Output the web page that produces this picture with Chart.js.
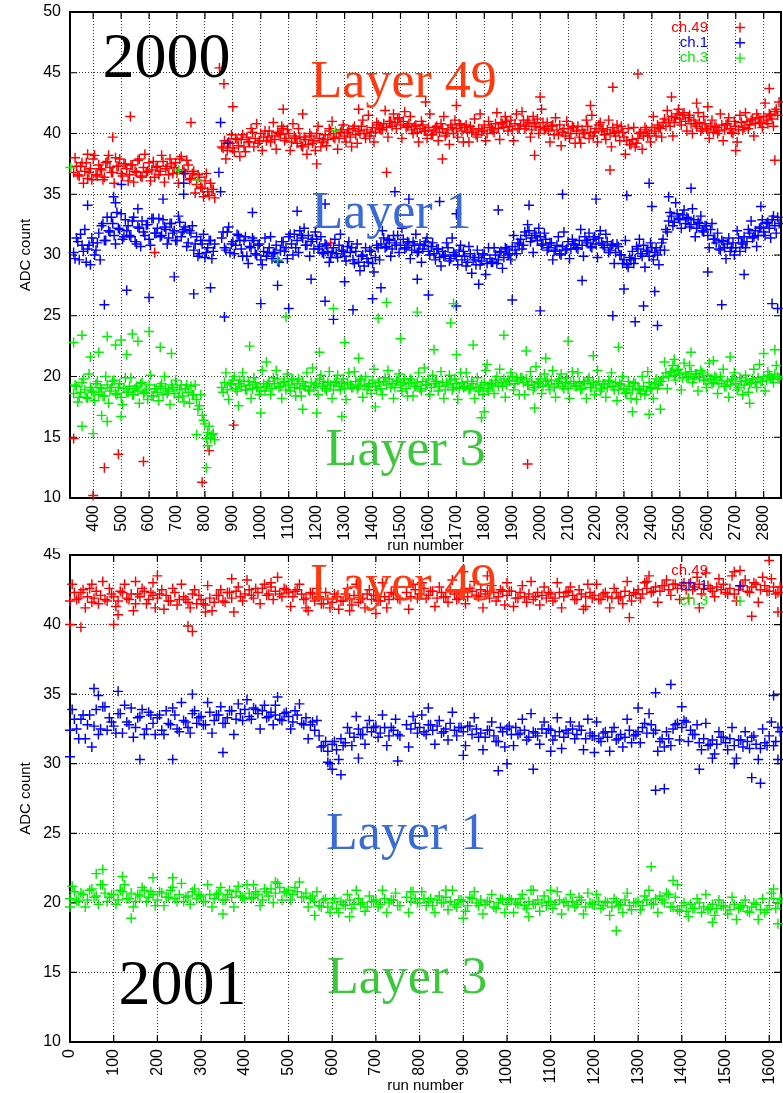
<!DOCTYPE html>
<html>
<head>
<meta charset="utf-8">
<title>ADC count vs run number, 2000 and 2001</title>
<script src="https://cdn.jsdelivr.net/npm/chart.js@4.4.1/dist/chart.umd.min.js"></script>
<style>
  body { margin: 0; background: #fff; }
  .panel { position: absolute; left: 0; }
</style>
</head>
<body>
<canvas id="adc2000" class="panel" width="783" height="553" style="top:0"></canvas>
<canvas id="adc2001" class="panel" width="783" height="545" style="top:548px"></canvas>
<script>
// each channel has two reading rows: one on the RUN_STEP grid, one shifted by half a step;
// null where no run was taken
const RUN_STEP = 10;

// ---- 2000 run period (runs 330 .. 2855) ----
const firstRun2000 = 330;
const runTicks2000 = [400, 500, 600, 700, 800, 900, 1000, 1100, 1200, 1300, 1400, 1500, 1600,
  1700, 1800, 1900, 2000, 2100, 2200, 2300, 2400, 2500, 2600, 2700, 2800];
const adcTicks2000 = [10, 15, 20, 25, 30, 35, 40, 45, 50];

const ch49_2000 = [
  36.8, 37.3, 36.5, 37.6, 36.9, 36.3, 37.1, 37.9, 36.6, 37.4,
  37.0, 36.4, 37.7, 37.2, 36.8, 38.0, 37.3, 36.7, 37.5, 37.1,
  36.6, 37.4, 36.9, 37.8, 36.5, 37.2, 36.8, 37.6, 37.0, 36.4,
  37.3, 36.9, 37.7, 37.1, 36.6, 37.5, 37.2, 36.8, 37.9, 37.0,
  36.7, 37.4, 36.3, 36.9, 35.8, 36.4, 35.5, 36.1, 35.2, 35.9,
  35.4, null, null, 38.9, 39.4, 38.6, 39.2, 38.8, 39.6, 39.0,
  39.5, 38.9, 39.7, 39.3, 40.1, 39.6, 39.2, 40.0, 39.7, 39.4,
  40.2, 39.8, 39.5, 40.1, 39.9, 40.4, 39.6, 40.0, 39.3, 39.8,
  39.2, 39.7, 38.9, 39.5, 39.1, 39.8, 39.4, 40.0, 39.6, 39.3,
  39.9, 39.5, 40.2, 39.7, 40.0, 39.6, 40.3, 39.8, 40.1, 39.7,
  40.4, 39.9, 40.2, 40.6, 40.0, 40.3, 39.8, 40.5, 40.1, 40.7,
  40.3, 40.8, 40.5, 41.0, 40.6, 40.9, 41.2, 40.7, 41.0, 40.5,
  40.8, 40.3, 40.6, 40.1, 40.4, 40.7, 40.2, 40.5, 39.9, 40.3,
  40.6, 40.1, 40.4, 39.8, 40.3, 40.7, 40.0, 40.4, 40.8, 40.2,
  40.5, 40.1, 40.6, 40.3, 39.9, 40.4, 40.2, 40.7, 40.0, 40.5,
  40.3, 40.8, 40.4, 40.9, 40.5, 41.0, 40.6, 40.3, 40.8, 40.4,
  40.7, 41.1, 40.6, 40.9, 40.3, 40.8, 41.2, 40.5, 40.9, 40.4,
  40.2, 40.6, 39.9, 40.3, 40.7, 40.1, 39.8, 40.4, 40.0, 40.5,
  40.2, 39.7, 40.3, 40.0, 40.6, 40.1, 39.8, 40.4, 40.7, 40.2,
  39.9, 40.3, 40.0, 40.5, 39.8, 40.2, 40.6, 39.7, 39.4, 39.1,
  39.5, 38.9, 39.6, 40.1, 39.8, 40.3, 40.0, 40.5, 40.2, 40.7,
  40.4, 40.9, 40.6, 41.1, 41.4, 40.9, 41.6, 41.2, 41.5, 41.0,
  41.3, 40.8, 41.1, 40.6, 40.9, 40.4, 40.8, 40.3, 40.6, 40.1,
  40.5, 40.2, 40.7, 40.3, 40.8, 40.4, 40.0, 40.6, 40.3, 40.9,
  40.5, 41.0, 40.7, 41.2, 40.8, 41.3, 40.9, 41.4, 41.1, 41.6,
  41.2, 41.8, 41.5
];
const ch49_2000_half = [
  38.0, 36.6, 37.3, 35.9, 37.6, 36.8, 36.2, 38.2, 36.5, 37.1,
  36.2, 37.6, 38.2, 36.8, 35.9, 37.3, 37.9, 36.5, 37.5, 36.1,
  37.4, 36.0, 36.8, 37.9, 36.4, 38.3, 36.9, 36.1, 37.7, 37.2,
  36.6, 38.2, 36.0, 37.3, 37.9, 36.7, 37.6, 35.9, 38.1, 36.9,
  37.8, 36.2, 36.7, 35.1, 36.6, 35.6, 34.8, 36.7, 34.9, 35.4,
  34.7, null, null, 38.8, 37.9, 39.3, 39.9, 38.5, 39.5, 38.1,
  39.9, 38.5, 39.3, 40.4, 38.9, 40.8, 39.4, 38.6, 40.2, 39.7,
  39.3, 40.9, 38.7, 40.0, 40.6, 39.4, 40.3, 38.6, 40.8, 39.6,
  40.4, 39.0, 39.7, 38.3, 40.0, 39.2, 38.6, 40.6, 38.9, 39.5,
  39.0, 40.4, 41.0, 39.6, 38.7, 40.1, 40.7, 39.3, 40.3, 38.9,
  40.6, 39.2, 40.0, 41.1, 39.6, 41.5, 40.1, 39.3, 40.9, 40.4,
  40.3, 41.9, 39.7, 41.0, 41.6, 40.4, 41.3, 39.6, 41.8, 40.6,
  41.4, 40.0, 40.7, 39.3, 41.0, 40.2, 39.6, 41.6, 39.9, 40.5,
  39.4, 40.8, 41.4, 40.0, 39.1, 40.5, 41.1, 39.7, 40.7, 39.3,
  40.7, 39.3, 40.1, 41.2, 39.7, 41.6, 40.2, 39.4, 41.0, 40.5,
  40.1, 41.7, 39.5, 40.8, 41.4, 40.2, 41.1, 39.4, 41.6, 40.4,
  41.8, 40.4, 41.1, 39.7, 41.4, 40.6, 40.0, 42.0, 40.3, 40.9,
  39.3, 40.7, 41.3, 39.9, 39.0, 40.4, 41.0, 39.6, 40.6, 39.2,
  40.6, 39.2, 40.0, 41.1, 39.6, 41.5, 40.1, 39.3, 40.9, 40.4,
  39.5, 41.1, 38.9, 40.1, 40.7, 39.4, 40.1, 38.3, 40.4, 39.1,
  40.5, 39.2, 40.0, 38.7, 40.5, 39.8, 39.3, 41.4, 39.8, 40.5,
  39.7, 41.2, 41.9, 40.6, 39.8, 41.3, 42.0, 40.7, 41.7, 40.2,
  41.5, 40.0, 40.8, 41.7, 40.2, 41.4, 40.4, 39.6, 41.1, 40.6,
  40.0, 41.6, 39.4, 40.7, 41.3, 40.1, 41.0, 39.3, 41.5, 40.3,
  41.7, 40.4, 41.1, 39.8, 41.6, 40.9, 40.5, 42.5, 40.8, 41.5,
  40.6, 42.0, 42.6
];
const ch1_2000 = [
  30.2, 31.4, 29.6, 30.8, 32.1, 30.5, 29.2, 31.0, 30.4, 31.8,
  32.4, 31.2, 33.1, 31.9, 32.6, 30.9, 32.2, 33.4, 31.5, 32.0,
  31.6, 32.8, 31.1, 32.3, 30.7, 31.9, 32.5, 31.3, 33.0, 31.8,
  32.2, 31.5, 32.9, 32.1, 31.4, 32.6, 32.0, 31.2, 32.7, 31.9,
  32.3, 31.0, 31.8, 30.4, 31.5, 30.1, 30.9, 29.8, 30.6, 31.2,
  30.3, null, null, 31.4, 30.6, 31.9, 30.2, 31.1, 30.8, 31.6,
  30.5, 31.2, 29.9, 30.7, 31.4, 30.1, 30.8, 29.6, 30.3, 29.9,
  30.6, 29.7, 30.2, 29.5, 30.4, 31.1, 30.6, 31.5, 30.9, 31.7,
  31.2, 32.0, 31.4, 30.8, 31.6, 31.1, 30.5, 31.3, 30.7, 30.2,
  30.9, 30.3, 29.8, 30.6, 30.1, 30.8, 30.4, 29.9, 30.7, 30.2,
  29.6, 30.3, 29.4, 29.9, 29.1, 29.7, 30.4, 29.3, 29.8, 30.6,
  30.9, 31.4, 30.7, 31.2, 30.5, 31.0, 31.6, 30.8, 31.3, 30.6,
  31.0, 30.4, 30.8, 30.2, 30.9, 30.5, 31.1, 30.3, 30.7, 30.1,
  30.5, 29.8, 30.3, 30.0, 30.6, 29.7, 30.2, 29.9, 30.4, 29.6,
  29.9, 29.4, 30.1, 29.6, 29.2, 29.8, 29.5, 30.0, 29.3, 29.7,
  29.4, 30.0, 29.6, 30.3, 29.8, 30.5, 30.1, 30.7, 30.4, 31.0,
  31.3, 30.8, 31.6, 32.0, 31.4, 31.8, 31.2, 31.5, 30.9, 31.3,
  30.6, 31.0, 30.3, 30.8, 30.1, 30.7, 30.4, 31.1, 30.5, 30.9,
  30.6, 31.2, 30.8, 31.5, 31.0, 30.7, 31.3, 30.9, 31.4, 31.0,
  30.6, 31.1, 30.4, 30.9, 30.2, 30.7, 30.0, 29.6, 29.2, 29.8,
  30.3, 29.7, 30.5, 30.1, 30.8, 30.3, 29.9, 30.6, 30.2, 30.0,
  30.4, 31.3, 32.1, 32.8, 33.2, 32.7, 33.4, 32.9, 33.3, 32.6,
  33.0, 32.5, 32.9, 32.2, 32.6, 32.0, 32.4, 31.6, 32.1, 31.3,
  31.0, 30.5, 31.2, 30.6, 30.9, 30.3, 31.0, 30.6, 31.4, 31.0,
  31.5, 31.1, 31.8, 31.4, 32.0, 31.6, 32.3, 31.9, 32.6, 32.2,
  32.9, 32.4, 33.1
];
const ch1_2000_half = [
  29.7, 31.1, 31.7, 30.3, 29.4, 30.8, 31.4, 30.0, 31.0, 29.6,
  32.6, 31.2, 32.0, 33.1, 31.6, 33.5, 32.1, 31.3, 32.9, 32.4,
  31.5, 33.1, 30.9, 32.2, 32.8, 31.6, 32.5, 30.8, 33.0, 31.8,
  33.0, 31.6, 32.3, 30.9, 32.6, 31.8, 31.2, 33.2, 31.5, 32.1,
  30.7, 32.0, 32.4, 30.9, 29.9, 31.2, 31.7, 30.2, 31.2, 29.7,
  30.9, null, null, 31.9, 30.4, 32.3, 30.9, 30.1, 31.7, 31.2,
  29.9, 31.5, 29.3, 30.6, 31.2, 30.0, 30.9, 29.2, 31.4, 30.2,
  31.5, 30.1, 30.8, 29.4, 31.1, 30.3, 29.7, 31.7, 30.0, 30.6,
  30.2, 31.6, 32.2, 30.8, 29.9, 31.3, 31.9, 30.5, 31.5, 30.1,
  30.8, 29.4, 30.2, 31.3, 29.8, 31.7, 30.3, 29.5, 31.1, 30.6,
  29.3, 30.9, 28.7, 30.0, 30.6, 29.4, 30.3, 28.6, 30.8, 29.6,
  32.0, 30.6, 31.3, 29.9, 31.6, 30.8, 30.2, 32.2, 30.5, 31.1,
  29.7, 31.1, 31.7, 30.3, 29.4, 30.8, 31.4, 30.0, 31.0, 29.6,
  30.5, 29.1, 29.9, 31.0, 29.5, 31.4, 30.0, 29.2, 30.8, 30.3,
  29.1, 30.7, 28.5, 29.8, 30.4, 29.2, 30.1, 28.4, 30.6, 29.4,
  30.6, 29.3, 30.2, 28.9, 30.6, 30.0, 29.6, 31.6, 30.1, 30.9,
  30.5, 31.9, 32.5, 31.1, 30.2, 31.6, 32.2, 30.8, 31.8, 30.4,
  31.0, 29.6, 30.4, 31.5, 30.0, 31.9, 30.5, 29.7, 31.3, 30.8,
  30.5, 32.1, 29.9, 31.2, 31.8, 30.6, 31.5, 29.8, 32.0, 30.8,
  31.7, 30.2, 30.8, 29.3, 30.9, 30.0, 29.3, 31.2, 29.0, 29.6,
  29.3, 30.7, 31.3, 29.9, 29.0, 30.4, 31.0, 29.6, 30.6, 29.2,
  31.0, 30.4, 31.9, 33.5, 32.4, 34.3, 33.0, 32.2, 33.7, 33.1,
  32.3, 33.8, 31.5, 32.7, 33.2, 31.9, 32.4, 30.6, 32.6, 31.3,
  31.8, 30.4, 31.1, 29.7, 31.4, 30.6, 30.0, 32.0, 30.3, 30.9,
  30.6, 32.1, 32.8, 31.5, 30.7, 32.2, 32.9, 31.6, 32.7, 31.4,
  33.2, 31.8, 32.6
];
const ch3_2000 = [
  18.6, 19.2, 18.3, 19.5, 18.9, 18.2, 19.1, 18.7, 19.4, 18.5,
  19.0, 18.4, 19.3, 18.8, 19.6, 18.6, 19.1, 18.3, 19.0, 18.7,
  19.2, 18.5, 19.0, 18.8, 19.4, 18.6, 18.9, 19.3, 18.4, 19.0,
  18.7, 19.2, 18.5, 19.0, 18.8, 19.3, 18.6, 19.1, 18.9, 18.4,
  19.0, 18.7, 19.2, 18.5, 18.1, 17.6, 16.8, 16.1, 15.4, 14.9,
  15.3, null, null, 19.1, 19.5, 18.9, 19.3, 19.7, 19.0, 19.4,
  19.2, 19.6, 18.9, 19.3, 19.0, 19.5, 19.1, 18.8, 19.4, 19.2,
  19.6, 19.0, 19.4, 19.8, 19.2, 19.5, 18.9, 19.3, 19.7, 19.1,
  19.4, 19.0, 19.6, 19.2, 18.9, 19.5, 19.1, 19.4, 19.8, 19.2,
  19.0, 19.5, 19.3, 18.9, 19.6, 19.2, 19.4, 19.0, 19.5, 19.3,
  19.1, 19.6, 19.2, 19.8, 19.3, 18.9, 19.4, 19.7, 19.2, 19.5,
  19.0, 19.6, 19.3, 19.8, 19.4, 19.1, 19.7, 19.3, 19.5, 19.0,
  19.4, 19.7, 19.2, 19.5, 19.0, 19.6, 19.3, 19.8, 19.1, 19.4,
  19.6, 19.2, 19.5, 18.9, 19.3, 19.7, 19.1, 19.4, 19.0, 19.5,
  19.2, 19.6, 19.0, 19.4, 19.1, 18.8, 19.3, 19.5, 19.0, 19.4,
  19.3, 19.7, 19.2, 19.5, 19.8, 19.3, 19.6, 20.0, 19.4, 19.7,
  19.9, 19.5, 19.8, 19.3, 19.6, 19.1, 19.5, 19.8, 19.2, 19.6,
  19.3, 19.7, 19.1, 19.4, 19.8, 19.2, 19.5, 19.0, 19.4, 19.6,
  19.2, 19.5, 19.0, 19.4, 19.7, 19.1, 19.5, 19.3, 19.6, 19.0,
  19.4, 19.1, 19.6, 19.2, 19.5, 18.9, 19.3, 19.0, 18.7, 19.2,
  18.9, 19.4, 19.0, 18.6, 19.2, 18.8, 19.5, 19.1, 19.4, 19.0,
  19.6, 19.9, 20.3, 20.0, 20.4, 20.1, 20.5, 20.2, 19.9, 20.3,
  20.0, 20.4, 19.8, 20.2, 19.9, 20.3, 19.7, 20.1, 19.8, 19.5,
  19.9, 19.4, 19.7, 19.2, 19.6, 19.3, 19.8, 19.4, 19.1, 19.6,
  19.3, 19.7, 19.4, 19.8, 19.5, 19.9, 19.6, 20.0, 19.7, 20.1,
  19.8, 20.2, 20.0
];
const ch3_2000_half = [
  19.3, 17.9, 18.7, 19.8, 18.3, 20.2, 18.8, 18.0, 19.6, 19.1,
  18.4, 20.0, 17.8, 19.1, 19.7, 18.5, 19.4, 17.7, 19.9, 18.7,
  19.9, 18.5, 19.2, 17.8, 19.5, 18.7, 18.1, 20.1, 18.4, 19.0,
  18.0, 19.4, 20.0, 18.6, 17.7, 19.1, 19.7, 18.3, 19.3, 17.9,
  19.3, 17.8, 18.5, 19.3, 17.3, 18.5, 16.4, 14.9, 15.9, 15.2,
  14.8, null, null, 18.7, 20.3, 18.1, 19.4, 20.0, 18.8, 19.7,
  20.3, 18.9, 19.6, 18.2, 19.9, 19.1, 18.5, 20.5, 18.8, 19.4,
  18.5, 19.9, 20.5, 19.1, 18.2, 19.6, 20.2, 18.8, 19.8, 18.4,
  19.8, 18.4, 19.2, 20.3, 18.8, 20.7, 19.3, 18.5, 20.1, 19.6,
  18.8, 20.4, 18.2, 19.5, 20.1, 18.9, 19.8, 18.1, 20.3, 19.1,
  20.4, 19.0, 19.7, 18.3, 20.0, 19.2, 18.6, 20.6, 18.9, 19.5,
  18.5, 19.9, 20.5, 19.1, 18.2, 19.6, 20.2, 18.8, 19.8, 18.4,
  19.8, 18.4, 19.2, 20.3, 18.8, 20.7, 19.3, 18.5, 20.1, 19.6,
  18.8, 20.4, 18.2, 19.5, 20.1, 18.9, 19.8, 18.1, 20.3, 19.1,
  20.3, 18.9, 19.6, 18.2, 19.9, 19.1, 18.5, 20.5, 18.8, 19.4,
  18.6, 20.0, 20.6, 19.2, 18.3, 19.7, 20.3, 18.9, 19.9, 18.5,
  19.9, 18.5, 19.3, 20.4, 18.9, 20.8, 19.4, 18.6, 20.2, 19.7,
  18.9, 20.5, 18.3, 19.6, 20.2, 19.0, 19.9, 18.2, 20.4, 19.2,
  20.3, 18.9, 19.6, 18.2, 19.9, 19.1, 18.5, 20.5, 18.8, 19.4,
  18.3, 19.7, 20.3, 18.9, 18.0, 19.4, 20.0, 18.6, 19.6, 18.2,
  19.5, 18.1, 18.9, 20.0, 18.5, 20.4, 19.0, 18.2, 19.8, 19.3,
  19.6, 21.2, 19.0, 20.3, 20.9, 19.7, 20.6, 18.9, 21.1, 19.9,
  20.9, 19.5, 20.2, 18.8, 20.5, 19.7, 19.1, 21.1, 19.4, 20.0,
  18.6, 20.0, 20.6, 19.2, 18.3, 19.7, 20.3, 18.9, 19.9, 18.5,
  20.1, 18.7, 19.5, 20.6, 19.1, 21.0, 19.6, 18.8, 20.4, 19.9,
  19.5, 20.9, 19.8
];

// single readings off the main bands: [run, ADC]
const ch49_2000_odd = [
  [330, 14.9], [400, 10.2], [440, 12.5], [490, 13.6], [580, 13.0], [790, 11.3], [815, 13.9],
  [903, 16.0], [1955, 12.8], [852, 45.4], [868, 44.1], [533, 41.4], [750, 40.9], [380, 38.3],
  [470, 39.7], [1080, 42.0], [2350, 44.9], [2260, 43.8], [2000, 43.0], [1590, 42.6],
  [2180, 42.3], [2600, 42.2], [2820, 43.7], [1350, 42.0], [1150, 41.6], [1700, 42.3],
  [2470, 43.0], [900, 42.2], [2560, 42.5], [1200, 37.5], [1650, 37.9], [2250, 37.0],
  [2840, 37.8], [2700, 38.6], [1450, 36.8], [1980, 38.2], [620, 30.2], [1250, 31.0]
];
const ch1_2000_odd = [
  [440, 25.9], [520, 27.1], [600, 26.5], [690, 28.2], [760, 26.8], [820, 27.3], [870, 24.9],
  [856, 40.9], [881, 39.2], [850, 36.8], [856, 35.2], [501, 35.8], [724, 36.7], [724, 35.9],
  [724, 35.0], [473, 34.8], [1000, 26.0], [1060, 27.5], [1100, 25.6], [1180, 28.0],
  [1230, 26.2], [1260, 24.7], [1300, 27.8], [1330, 25.5], [1400, 26.4], [1430, 27.3],
  [1480, 35.2], [1530, 34.6], [1560, 28.0], [1600, 26.7], [1640, 34.4], [1700, 25.8],
  [1780, 27.6], [1850, 33.7], [1900, 26.3], [1960, 34.1], [2000, 25.4], [2080, 35.0],
  [2150, 27.9], [2200, 34.6], [2260, 25.0], [2300, 27.2], [2340, 24.5], [2370, 25.8],
  [2390, 35.9], [2410, 27.0], [2420, 24.2], [2460, 34.8], [2540, 35.5], [2600, 28.6],
  [2650, 25.9], [2730, 28.4], [2790, 34.0], [2830, 26.0], [2850, 25.6], [380, 34.1],
  [480, 34.3], [560, 33.8], [650, 34.6], [970, 33.5], [1130, 33.6], [1230, 34.2],
  [1700, 33.4], [2310, 34.9], [2400, 34.0]
];
const ch3_2000_odd = [
  [330, 22.8], [360, 23.4], [390, 21.6], [420, 22.0], [450, 23.3], [480, 22.6], [500, 23.0],
  [520, 21.8], [540, 23.5], [560, 22.9], [600, 23.7], [640, 22.4], [680, 21.9], [360, 15.9],
  [400, 15.3], [450, 16.3], [430, 16.8], [500, 16.7], [770, 15.2], [805, 12.5], [810, 14.3],
  [960, 22.5], [1020, 21.2], [1090, 24.9], [1210, 22.0], [1260, 25.6], [1300, 22.8],
  [1350, 21.5], [1420, 24.8], [1450, 26.1], [1500, 23.1], [1560, 25.3], [1620, 22.2],
  [1680, 24.4], [1700, 21.8], [1760, 22.6], [1810, 21.0], [1870, 23.4], [1950, 22.1],
  [2020, 21.5], [2100, 22.9], [2190, 21.7], [2280, 22.4], [2330, 17.1], [2390, 16.9],
  [2430, 17.3], [2480, 21.4], [2540, 22.0], [2620, 21.3], [2680, 21.6], [2750, 17.8],
  [2800, 21.9], [2840, 22.2], [1150, 17.3], [1200, 17.0], [1290, 16.7], [1410, 17.5],
  [1790, 16.6], [1800, 17.1], [1980, 17.4], [1000, 17.0], [920, 17.6], [319, 37.2],
  [707, 37.0], [773, 36.2], [1267, 40.2], [1060, 29.6], [1690, 26.0]
];

// ---- 2001 run period (runs 0 .. 1625) ----
const firstRun2001 = 0;
const runTicks2001 = [0, 100, 200, 300, 400, 500, 600, 700, 800, 900, 1000, 1100, 1200,
  1300, 1400, 1500, 1600];
const adcTicks2001 = [10, 15, 20, 25, 30, 35, 40, 45];

const ch49_2001 = [
  41.7, 42.3, 41.9, 42.5, 42.0, 41.6, 42.4, 42.1, 41.8, 42.6,
  42.0, 41.7, 42.3, 41.9, 42.2, 41.5, 42.0, 42.4, 41.8, 42.1,
  41.9, 42.5, 42.1, 41.7, 42.3, 41.8, 42.0, 41.6, 42.2, 41.5,
  41.8, 41.4, 41.9, 41.6, 42.1, 41.7, 42.3, 41.9, 42.4, 42.0,
  42.2, 42.5, 41.9, 42.3, 42.6, 42.1, 42.7, 42.4, 42.2, 42.6,
  42.3, 42.0, 42.5, 42.2, 41.9, 42.3, 41.7, 42.0, 41.5, 41.8,
  41.6, 42.0, 41.7, 42.2, 41.8, 42.1, 41.6, 41.9, 42.2, 41.8,
  42.1, 41.7, 42.0, 41.8, 42.2, 41.9, null, 42.3, 42.0, 42.5,
  42.2, 42.6, 42.1, 42.4, 41.9, 42.3, 42.0, 42.5, 42.2, 41.9,
  42.3, 42.0, 42.4, 42.1, 42.5, 42.2, 41.9, 42.3, 42.0, 42.4,
  42.1, 42.4, 41.9, 42.3, 42.0, 42.2, 41.8, 42.3, 42.1, 41.9,
  42.2, 41.9, 42.3, 42.0, 42.4, 42.1, 41.8, 42.2, 42.0, 42.3,
  42.1, 41.8, 42.2, 42.0, 41.9, 42.3, 42.0, 42.4, 42.1, 42.3,
  42.5, 42.2, 42.6, 42.3, 42.7, 42.4, 42.8, 42.5, 42.9, 42.6,
  42.8, 42.5, 43.0, 42.7, 42.9, 42.6, 42.8, 42.4, 42.7, 42.5,
  42.3, 42.6, 42.2, 42.5, 42.8, 42.4, 42.7, 42.9, 42.5, 42.8,
  42.4, 42.7, 42.3
];
const ch49_2001_half = [
  42.9, 41.8, 42.3, 41.2, 42.6, 41.9, 41.5, 43.1, 41.7, 42.2,
  41.3, 42.4, 42.9, 41.8, 41.0, 42.2, 42.6, 41.5, 42.3, 41.2,
  42.2, 41.1, 41.7, 42.6, 41.4, 42.9, 41.8, 41.2, 42.5, 42.1,
  41.5, 42.8, 41.0, 42.1, 42.5, 41.6, 42.3, 40.9, 42.7, 41.7,
  43.2, 42.1, 42.6, 41.5, 42.9, 42.2, 41.8, 43.4, 42.0, 42.5,
  41.3, 42.4, 42.9, 41.8, 41.0, 42.2, 42.6, 41.5, 42.3, 41.2,
  42.2, 41.1, 41.7, 42.6, 41.4, 42.9, 41.8, 41.2, 42.5, 42.1,
  41.7, 43.0, 41.2, 42.3, 42.7, 41.8, null, 41.1, 42.9, 41.9,
  43.0, 41.9, 42.4, 41.3, 42.7, 42.0, 41.6, 43.2, 41.8, 42.3,
  41.5, 42.6, 43.1, 42.0, 41.2, 42.4, 42.8, 41.7, 42.5, 41.4,
  42.4, 41.3, 41.9, 42.8, 41.6, 43.1, 42.0, 41.4, 42.7, 42.3,
  41.7, 43.0, 41.2, 42.3, 42.7, 41.8, 42.5, 41.1, 42.9, 41.9,
  42.9, 41.8, 42.3, 41.2, 42.6, 41.9, 41.5, 43.1, 41.7, 42.2,
  41.9, 43.0, 43.5, 42.4, 41.6, 42.8, 43.2, 42.1, 42.9, 41.8,
  43.0, 41.9, 42.5, 43.4, 42.2, 43.7, 42.6, 42.0, 43.3, 42.9,
  42.2, 43.5, 41.7, 42.8, 43.2, 42.3, 43.0, 41.6, 43.4, 42.4,
  43.3, 42.2, 42.7
];
const ch1_2001 = [
  32.4, 33.2, 31.8, 33.5, 32.8, 31.2, 33.9, 32.5, 34.1, 33.3,
  32.7, 33.6, 32.2, 33.0, 34.0, 32.6, 33.4, 32.1, 33.7, 32.9,
  33.3, 32.4, 33.8, 32.8, 33.5, 32.3, 33.1, 32.6, 33.6, 32.9,
  33.4, 32.8, 33.7, 33.1, 33.5, 32.9, 33.3, 33.8, 33.2, 33.6,
  33.9, 33.4, 34.0, 33.6, 33.8, 33.3, 33.7, 33.5, 33.2, 33.6,
  33.4, 33.0, 33.5, 32.9, 33.3, 32.8, 32.4, 32.0, 31.3, 30.9,
  31.4, 31.0, 31.8, 31.5, 32.2, 31.9, 32.5, 32.1, 32.6, 32.3,
  32.7, 32.2, 32.6, 32.0, 32.4, 32.1, null, 32.8, 32.5, 32.9,
  32.6, 32.3, 32.8, 32.4, 32.7, 32.2, 32.5, 32.9, 32.4, 32.6,
  32.3, 32.7, 32.1, 32.5, 32.2, 31.9, 32.4, 32.0, 31.6, 32.3,
  32.5, 32.1, 32.6, 32.2, 32.4, 31.9, 32.3, 32.0, 32.5, 32.2,
  32.4, 32.0, 32.3, 31.9, 32.2, 32.5, 32.1, 32.4, 31.8, 32.2,
  32.0, 31.8, 32.2, 31.9, 32.3, 31.7, 32.1, 31.9, 32.4, 32.0,
  32.3, 32.6, 32.2, 32.8, 32.4, 31.6, 31.2, 31.8, 32.5, 32.9,
  32.6, 33.0, 32.4, 32.1, 31.5, 31.8, 31.3, 31.7, 31.4, 31.9,
  31.5, 31.8, 31.3, 31.7, 31.2, 31.6, 31.9, 31.4, 31.1, 31.5,
  32.0, 31.3, 32.6
];
const ch1_2001_half = [
  33.9, 32.5, 33.2, 31.8, 33.5, 32.7, 32.1, 34.1, 32.4, 33.0,
  32.2, 33.6, 34.2, 32.8, 31.9, 33.3, 33.9, 32.5, 33.5, 32.1,
  33.5, 32.1, 32.9, 34.0, 32.5, 34.4, 33.0, 32.2, 33.8, 33.3,
  32.8, 34.4, 32.2, 33.5, 34.1, 32.9, 33.8, 32.1, 34.3, 33.1,
  34.6, 33.2, 33.9, 32.5, 34.2, 33.4, 32.8, 34.8, 33.1, 33.7,
  32.5, 33.8, 34.3, 32.8, 31.8, 33.0, 33.1, 31.2, 31.6, 30.0,
  31.6, 30.3, 31.3, 32.6, 31.3, 33.4, 32.1, 31.4, 33.1, 32.6,
  31.9, 33.5, 31.3, 32.6, 33.2, 32.0, null, 31.2, 33.4, 32.2,
  33.5, 32.1, 32.8, 31.4, 33.1, 32.3, 31.7, 33.7, 32.0, 32.6,
  31.3, 32.7, 33.3, 31.9, 31.0, 32.4, 33.0, 31.6, 32.6, 31.2,
  32.7, 31.3, 32.1, 33.2, 31.7, 33.6, 32.2, 31.4, 33.0, 32.5,
  31.7, 33.3, 31.1, 32.4, 33.0, 31.8, 32.7, 31.0, 33.2, 32.0,
  33.0, 31.6, 32.3, 30.9, 32.6, 31.8, 31.2, 33.2, 31.5, 32.1,
  31.5, 32.9, 33.6, 32.2, 30.9, 31.8, 32.3, 31.3, 32.8, 31.7,
  33.1, 31.6, 32.1, 32.8, 31.0, 32.9, 31.4, 30.7, 32.3, 31.9,
  31.0, 32.6, 30.4, 31.7, 32.3, 31.1, 32.0, 30.3, 32.5, 31.3,
  33.0, 31.6, 32.3
];
const ch3_2001 = [
  20.3, 20.8, 20.1, 20.6, 20.2, 21.0, 20.5, 21.3, 20.7, 20.4,
  20.6, 20.2, 20.8, 20.3, 20.7, 20.1, 20.5, 20.9, 20.4, 20.6,
  20.2, 20.7, 20.4, 20.9, 20.3, 20.6, 20.1, 20.5, 20.8, 20.3,
  20.5, 20.1, 20.6, 20.3, 20.7, 20.2, 20.6, 20.4, 20.8, 20.5,
  20.3, 20.7, 20.4, 20.6, 20.2, 20.8, 21.0, 20.7, 21.1, 20.8,
  20.9, 20.6, 20.8, 20.4, 20.7, 20.3, 20.1, 19.8, 20.2, 19.7,
  20.0, 19.6, 20.1, 19.8, 20.2, 19.9, 20.3, 20.0, 19.7, 20.1,
  20.2, 19.9, 20.3, 20.0, 20.2, 19.8, null, 20.4, 20.1, 20.3,
  20.0, 20.3, 20.1, 19.8, 20.2, 20.0, 20.4, 20.1, 19.9, 20.2,
  20.1, 19.8, 20.3, 20.0, 20.2, 19.9, 20.1, 19.7, 20.0, 20.2,
  19.9, 20.2, 20.0, 20.3, 19.8, 20.1, 19.9, 20.2, 20.0, 19.8,
  20.1, 19.9, 20.2, 20.0, 19.8, 20.1, 19.9, 20.2, 19.7, 20.0,
  19.9, 20.1, 19.8, 20.0, 19.7, 20.1, 19.9, 20.2, 19.8, 20.0,
  20.1, 19.8, 20.2, 19.9, 20.3, 20.5, 20.0, 20.6, 19.7, 19.5,
  19.8, 19.4, 19.9, 19.6, 20.0, 19.7, 19.5, 19.9, 19.6, 19.8,
  19.7, 19.5, 19.9, 19.6, 19.8, 19.4, 19.7, 19.9, 19.5, 19.3,
  19.8, 20.3, 20.0
];
const ch3_2001_half = [
  21.2, 20.2, 20.7, 19.7, 20.9, 20.4, 19.9, 21.3, 20.1, 20.6,
  19.9, 20.9, 21.3, 20.3, 19.7, 20.6, 21.1, 20.1, 20.8, 19.8,
  20.8, 19.8, 20.4, 21.1, 20.1, 21.4, 20.4, 19.9, 21.0, 20.6,
  20.1, 21.3, 19.7, 20.6, 21.1, 20.2, 20.9, 19.7, 21.2, 20.4,
  21.3, 20.3, 20.8, 19.8, 21.0, 20.5, 20.0, 21.4, 20.2, 20.7,
  20.2, 21.1, 21.5, 20.4, 19.7, 20.5, 20.8, 19.7, 20.3, 19.3,
  20.3, 19.3, 19.9, 20.6, 19.6, 20.9, 19.9, 19.4, 20.5, 20.1,
  19.7, 20.9, 19.3, 20.2, 20.7, 19.8, null, 19.3, 20.8, 20.0,
  20.8, 19.8, 20.3, 19.3, 20.5, 20.0, 19.5, 20.9, 19.7, 20.2,
  19.4, 20.4, 20.8, 19.8, 19.2, 20.1, 20.6, 19.6, 20.3, 19.3,
  20.3, 19.3, 19.9, 20.6, 19.6, 20.9, 19.9, 19.4, 20.5, 20.1,
  19.6, 20.8, 19.2, 20.1, 20.6, 19.7, 20.4, 19.2, 20.7, 19.9,
  20.6, 19.6, 20.1, 19.1, 20.3, 19.8, 19.3, 20.7, 19.5, 20.0,
  19.5, 20.5, 20.9, 19.9, 19.3, 20.2, 20.7, 19.7, 20.4, 19.4,
  20.0, 19.0, 19.6, 20.3, 19.3, 20.6, 19.6, 19.1, 20.2, 19.8,
  19.2, 20.4, 18.8, 19.7, 20.2, 19.3, 20.0, 18.8, 20.3, 19.5,
  20.7, 19.6, 20.3
];

const ch49_2001_odd = [
  [0, 40.0], [25, 39.8], [100, 40.0], [270, 39.9], [280, 39.5], [110, 40.7], [50, 42.9],
  [150, 43.1], [190, 43.0], [200, 43.5], [310, 40.9], [370, 43.3], [460, 43.0], [900, 43.8],
  [955, 43.5], [1000, 43.0], [1280, 40.5], [1320, 43.1], [1520, 43.8], [1600, 44.6],
  [1620, 40.9], [1440, 41.2], [1180, 41.3], [640, 41.0], [700, 40.8], [540, 41.2], [1560, 40.6]
];
const ch1_2001_odd = [
  [0, 30.5], [55, 35.4], [65, 34.9], [110, 35.2], [160, 30.3], [235, 30.3], [280, 35.0],
  [350, 30.8], [470, 34.2], [590, 30.1], [600, 29.6], [620, 29.2], [660, 30.4], [750, 30.2],
  [980, 29.5], [1000, 30.0], [1060, 29.6], [1200, 30.8], [1340, 28.1], [1360, 28.2],
  [1375, 35.7], [1340, 35.1], [1400, 34.1], [1440, 29.6], [1470, 30.4], [1520, 30.0],
  [1560, 29.0], [1580, 28.6], [1610, 34.9], [1620, 30.3], [1300, 34.0], [820, 34.0],
  [900, 30.6], [1100, 30.9]
];
const ch3_2001_odd = [
  [0, 19.7], [60, 22.1], [75, 22.4], [120, 21.9], [140, 18.9], [190, 21.8], [235, 21.8],
  [350, 19.2], [420, 21.3], [470, 21.5], [560, 19.1], [640, 19.0], [900, 18.9], [1050, 19.0],
  [1250, 18.0], [1330, 22.6], [1380, 21.6], [1390, 21.3], [1470, 18.6], [1610, 21.0],
  [1620, 18.5], [1100, 20.9], [860, 20.9], [780, 20.8], [1060, 20.9]
];

const SANS = '"Liberation Sans", Arial, Helvetica, sans-serif';
const SERIF = '"Liberation Serif", "Times New Roman", serif';
const CHANNELS = [
  { label: 'ch.49', color: '#ff0000' },
  { label: 'ch.1', color: '#0000ff' },
  { label: 'ch.3', color: '#00f000' }
];

function toPoints(firstRun, rows, odd) {
  const pts = [];
  rows.forEach((values, r) => {
    const start = firstRun + r * RUN_STEP / 2;
    values.forEach((v, i) => {
      if (v !== null) pts.push({ x: start + i * RUN_STEP, y: v });
    });
  });
  odd.forEach(([run, adc]) => pts.push({ x: run, y: adc }));
  return pts;
}

function plusSign(ctx, x, y, r) {
  ctx.beginPath();
  ctx.moveTo(x - r, y); ctx.lineTo(x + r, y);
  ctx.moveTo(x, y - r); ctx.lineTo(x, y + r);
  ctx.stroke();
}

// box around the plot with inward tick marks on all four sides
const frame = {
  id: 'frame',
  beforeDatasetsDraw(chart) {
    const { ctx, chartArea: a, scales: { x, y } } = chart;
    ctx.save();
    ctx.strokeStyle = '#000';
    ctx.lineWidth = 1.2;
    x.ticks.forEach(t => {
      const px = x.getPixelForValue(t.value);
      ctx.beginPath();
      ctx.moveTo(px, a.bottom); ctx.lineTo(px, a.bottom - 7);
      ctx.moveTo(px, a.top); ctx.lineTo(px, a.top + 7);
      ctx.stroke();
    });
    y.ticks.forEach(t => {
      const py = y.getPixelForValue(t.value);
      ctx.beginPath();
      ctx.moveTo(a.left, py); ctx.lineTo(a.left + 7, py);
      ctx.moveTo(a.right, py); ctx.lineTo(a.right - 7, py);
      ctx.stroke();
    });
    ctx.lineWidth = 2;
    ctx.strokeRect(a.left, a.top, a.right - a.left, a.bottom - a.top);
    ctx.restore();
  }
};

// gnuplot-style key: each entry is drawn just before its own points
const key = {
  id: 'key',
  beforeDatasetDraw(chart, args) {
    const { ctx, chartArea: a } = chart;
    const ch = CHANNELS[args.index];
    const yy = a.top + 15.5 + args.index * 15.3;
    ctx.save();
    ctx.font = '15px ' + SANS;
    ctx.fillStyle = ch.color;
    ctx.textAlign = 'right';
    ctx.textBaseline = 'middle';
    ctx.fillText(ch.label, a.right - 73, yy);
    ctx.strokeStyle = ch.color;
    ctx.lineWidth = 1.4;
    plusSign(ctx, a.right - 41, yy, 5);
    ctx.restore();
  }
};

function textLabels(items) {
  return {
    id: 'textLabels',
    afterDatasetsDraw(chart) {
      const { ctx, scales: { x, y } } = chart;
      ctx.save();
      ctx.textAlign = 'left';
      ctx.textBaseline = 'alphabetic';
      items.forEach(it => {
        ctx.font = it.size + 'px ' + SERIF;
        ctx.fillStyle = it.color;
        ctx.fillText(it.text, x.getPixelForValue(it.run), y.getPixelForValue(it.adc));
      });
      ctx.restore();
    }
  };
}

function panel(id, p) {
  const datasets = p.series.map((s, i) => ({
    label: CHANNELS[i].label,
    data: toPoints(p.firstRun, s.rows, s.odd),
    pointStyle: 'cross',
    pointRadius: 5,
    pointBorderWidth: 1.45,
    borderColor: CHANNELS[i].color,
    backgroundColor: CHANNELS[i].color,
    showLine: false,
    order: 3 - i,
    clip: 8
  }));

  const tickFont = { family: SANS, size: 16 };
  const titleFont = { family: SANS, size: 15, lineHeight: 1 };

  return new Chart(document.getElementById(id), {
    type: 'scatter',
    data: { datasets },
    options: {
      responsive: false,
      animation: false,
      devicePixelRatio: 1,
      layout: { autoPadding: false, padding: { top: p.padTop, right: 2, left: 0, bottom: 0 } },
      plugins: { legend: { display: false }, tooltip: { enabled: false } },
      scales: {
        x: {
          type: 'linear',
          min: p.runMin,
          max: p.runMax,
          afterBuildTicks: s => { s.ticks = p.runTicks.map(value => ({ value })); },
          afterFit: s => { s.height = p.xAxisHeight; s.paddingLeft = 0; s.paddingRight = 0; },
          ticks: {
            autoSkip: false, minRotation: 90, maxRotation: 90, padding: 7,
            color: '#000', font: tickFont, callback: v => String(v)
          },
          grid: { color: '#333', lineWidth: 1, drawTicks: false },
          border: { display: false, dash: [1, 2] },
          title: { display: true, text: 'run number', color: '#000', font: titleFont,
                   padding: { top: 0, bottom: 0 } }
        },
        y: {
          min: p.adcMin,
          max: p.adcMax,
          afterBuildTicks: s => { s.ticks = p.adcTicks.map(value => ({ value })); },
          afterFit: s => { s.width = 70; s.paddingTop = 0; s.paddingBottom = 0; },
          ticks: { padding: 9, color: '#000', font: tickFont, callback: v => String(v) },
          grid: { color: '#333', lineWidth: 1, drawTicks: false },
          border: { display: false, dash: [1, 2] },
          title: { display: true, text: 'ADC count', color: '#000', font: titleFont,
                   padding: { top: 18, bottom: 0 } }
        }
      }
    },
    plugins: [frame, key, textLabels(p.labels)]
  });
}

const LAYER49 = '#ff3a10', LAYER1 = '#3a6bd6', LAYER3 = '#3cc83c';

panel('adc2000', {
  firstRun: firstRun2000, runMin: 317, runMax: 2862, runTicks: runTicks2000,
  adcMin: 10, adcMax: 50, adcTicks: adcTicks2000,
  padTop: 12, xAxisHeight: 55,
  series: [
    { rows: [ch49_2000, ch49_2000_half], odd: ch49_2000_odd },
    { rows: [ch1_2000, ch1_2000_half], odd: ch1_2000_odd },
    { rows: [ch3_2000, ch3_2000_half], odd: ch3_2000_odd }
  ],
  labels: [
    { text: '2000', run: 433, adc: 44.65, size: 64, color: '#000' },
    { text: 'Layer 49', run: 1178, adc: 43.0, size: 52, color: LAYER49 },
    { text: 'Layer 1', run: 1181, adc: 32.2, size: 52, color: LAYER1 },
    { text: 'Layer 3', run: 1232, adc: 12.7, size: 52, color: LAYER3 }
  ]
});

panel('adc2001', {
  firstRun: firstRun2001, runMin: 0, runMax: 1627, runTicks: runTicks2001,
  adcMin: 10, adcMax: 45, adcTicks: adcTicks2001,
  padTop: 7, xAxisHeight: 51,
  series: [
    { rows: [ch49_2001, ch49_2001_half], odd: ch49_2001_odd },
    { rows: [ch1_2001, ch1_2001_half], odd: ch1_2001_odd },
    { rows: [ch3_2001, ch3_2001_half], odd: ch3_2001_odd }
  ],
  labels: [
    { text: '2001', run: 111, adc: 12.7, size: 64, color: '#000' },
    { text: 'Layer 49', run: 550, adc: 41.8, size: 52, color: LAYER49 },
    { text: 'Layer 1', run: 586, adc: 23.9, size: 52, color: LAYER1 },
    { text: 'Layer 3', run: 588, adc: 13.5, size: 52, color: LAYER3 }
  ]
});
</script>
</body>
</html>
